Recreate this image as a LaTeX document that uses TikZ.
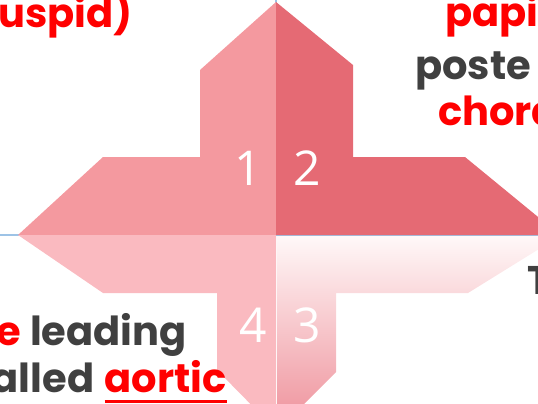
\documentclass[tikz,border=0pt]{standalone}
\usepackage{fontspec}
\setmainfont{Poppins}
\newfontfamily\digitfont{Open Sans}
\definecolor{qone}{HTML}{F4999F}
\definecolor{qtwo}{HTML}{E56A74}
\definecolor{qfour}{HTML}{FABAC0}
\definecolor{qthreetop}{HTML}{FFF8F8}
\definecolor{qthreebot}{HTML}{EE8F99}
\definecolor{axisblue}{HTML}{9DC3E6}
\definecolor{txtgray}{HTML}{404040}
\definecolor{txtred}{HTML}{FF0000}
\tikzset{
  digit/.style={text=white, font=\digitfont\fontsize{48}{48}\selectfont, inner sep=0pt},
  bodytxt/.style={font=\fontsize{40}{40}\selectfont\bfseries, inner sep=0pt, text=txtgray},
  redtxt/.style={bodytxt, text=txtred}
}
\begin{document}
\begin{tikzpicture}[x=1pt,y=-1pt]
\useasboundingbox (0,0) rectangle (538,404);
% axes
\draw[axisblue, line width=1.5pt] (0,235) -- (538,235);
\draw[axisblue, line width=1.2pt] (276,0) -- (276,4);
% quadrant 1
\fill[qone] (276,2) -- (200,70) -- (200,157) -- (103,157) -- (18,235) -- (276,235) -- cycle;
% quadrant 2
\fill[qtwo] (276,2) -- (353,65) -- (353,157) -- (465,157) -- (560,235) -- (276,235) -- cycle;
% quadrant 4
\fill[qfour] (18,235) -- (103,293) -- (217,293) -- (217,370) -- (276,430) -- (276,235) -- cycle;
% quadrant 3
\shade[top color=qthreetop, bottom color=qthreebot] (277,236) -- (560,236) -- (468,293) -- (336,293) -- (336,372) -- (277,431) -- cycle;
% digits
\node[digit] (d1) at (248,168) {1};
\node[digit] (d2) at (307,168) {2};
\node[digit] (d4) at (253,325) {4};
\node[digit] (d3) at (307,325) {3};
% texts
\node[redtxt, anchor=base east] (t1) at (133,28) {cuspid)};
\node[redtxt, anchor=base west] (t2) at (445,27) {papi};
\node[bodytxt, anchor=base west] (t3) at (415,80) {poste};
\node[redtxt, anchor=base west] (t4) at (438,125) {chord};
\node[bodytxt, anchor=base east] (t5) at (187,345) {\textcolor{txtred}{e} leading};
\node[redtxt, anchor=base east] (t8) at (227,392) {aortic};
\node[bodytxt, anchor=base east] (t7) at ([xshift=-10pt]t8.base west) {alled};
\draw[txtred, line width=3pt] ([yshift=-9pt]t8.base west) -- ([yshift=-9pt]t8.base east);
\node[bodytxt, anchor=base west] (t9) at (527,294) {T};
\end{tikzpicture}
\end{document}
